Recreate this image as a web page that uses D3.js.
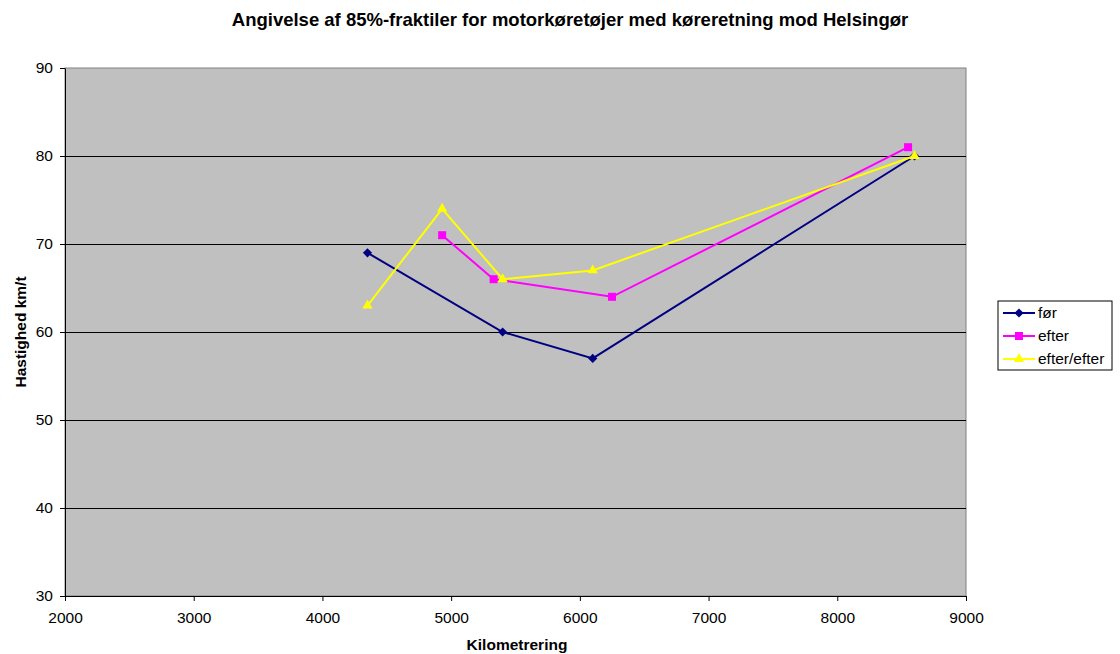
<!DOCTYPE html>
<html>
<head>
<meta charset="utf-8">
<script src="https://cdn.jsdelivr.net/npm/d3@7"></script>
<style>
  body { margin: 0; background: #fff; }
  text { font-family: "Liberation Sans", Arial, sans-serif; }
</style>
</head>
<body>
<svg width="1120" height="654"></svg>
<script>
// data
var forKm = [4350, 5400, 6100, 8600],
    forVal = [69, 60, 57, 80];
var efterKm = [4930, 5330, 6250, 8550],
    efterVal = [71, 66, 64, 81];
var efter2Km = [4350, 4930, 5400, 6100, 8600],
    efter2Val = [63, 74, 66, 67, 80];
var xTicks = [2000, 3000, 4000, 5000, 6000, 7000, 8000, 9000],
    yTicks = [30, 40, 50, 60, 70, 80, 90];

// diamond = square turned 45 degrees
var series = [
  { name: "før", km: forKm, val: forVal, color: "#000080", sym: d3.symbolSquare, size: 42, rot: 45 },
  { name: "efter", km: efterKm, val: efterVal, color: "#ff00ff", sym: d3.symbolSquare, size: 64, rot: 0 },
  { name: "efter/efter", km: efter2Km, val: efter2Val, color: "#ffff00", sym: d3.symbolTriangle, size: 46, rot: 0 }
];

var svg = d3.select("svg");
// plot box (window.top is reserved, so use p* names)
var pLeft = 65, pRight = 966, pTop = 68, pBottom = 596;

var x = d3.scaleLinear().domain([2000, 9000]).range([pLeft, pRight]);
var y = d3.scaleLinear().domain([30, 90]).range([pBottom, pTop]);

// plot area
svg.append("rect")
    .attr("x", pLeft).attr("y", pTop)
    .attr("width", pRight - pLeft).attr("height", pBottom - pTop)
    .attr("fill", "#c0c0c0")
    .attr("stroke", "#808080");

// gridlines
svg.append("g").selectAll("line")
  .data(yTicks.slice(1, -1))
  .enter().append("line")
    .attr("x1", pLeft).attr("x2", pRight)
    .attr("y1", function(d) { return Math.round(y(d)) + 0.5; })
    .attr("y2", function(d) { return Math.round(y(d)) + 0.5; })
    .attr("stroke", "#000");

// axes
var xAxis = svg.append("g")
    .attr("transform", "translate(0," + pBottom + ")")
    .call(d3.axisBottom(x).tickValues(xTicks).tickFormat(d3.format("d")).tickSizeOuter(0).tickSizeInner(5).tickPadding(11));
var yAxis = svg.append("g")
    .attr("transform", "translate(" + pLeft + ",0)")
    .call(d3.axisLeft(y).tickValues(yTicks).tickSizeOuter(0).tickSizeInner(5).tickPadding(7));

[xAxis, yAxis].forEach(function(a) {
  a.selectAll("text").attr("font-size", 15.5).attr("fill", "#000")
    .style("font-family", "'Liberation Sans', Arial, sans-serif");
  a.selectAll("line, path").attr("stroke", "#000");
});

// lines and markers
var line = d3.line()
    .x(function(d) { return x(d[0]); })
    .y(function(d) { return y(d[1]); });

series.forEach(function(s) {
  var pts = d3.zip(s.km, s.val);
  svg.append("path")
      .datum(pts)
      .attr("d", line)
      .attr("fill", "none")
      .attr("stroke", s.color)
      .attr("stroke-width", 2);
  svg.append("g").selectAll("path")
    .data(pts)
    .enter().append("path")
      .attr("d", d3.symbol().type(s.sym).size(s.size))
      .attr("transform", function(d) { return "translate(" + x(d[0]) + "," + y(d[1]) + ") rotate(" + s.rot + ")"; })
      .attr("fill", s.color);
});

// titles
svg.append("text")
    .attr("x", 570).attr("y", 26)
    .attr("text-anchor", "middle")
    .attr("font-size", 18.5).attr("font-weight", "bold")
    .text("Angivelse af 85%-fraktiler for motorkøretøjer med køreretning mod Helsingør");

svg.append("text")
    .attr("x", 517).attr("y", 650)
    .attr("text-anchor", "middle")
    .attr("font-size", 15.5).attr("font-weight", "bold")
    .text("Kilometrering");

svg.append("text")
    .attr("transform", "translate(26," + 332 + ") rotate(-90)")
    .attr("text-anchor", "middle")
    .attr("font-size", 15.5).attr("font-weight", "bold")
    .text("Hastighed km/t");

// legend
var lg = svg.append("g").attr("transform", "translate(998,301)");
lg.append("rect")
    .attr("width", 114).attr("height", 69)
    .attr("fill", "#fff").attr("stroke", "#000");
var item = lg.selectAll("g.item")
  .data(series)
  .enter().append("g")
    .attr("class", "item")
    .attr("transform", function(d, i) { return "translate(0," + (12 + i * 23) + ")"; });
item.append("line")
    .attr("x1", 5).attr("x2", 37)
    .attr("stroke", function(d) { return d.color; })
    .attr("stroke-width", 2);
item.append("path")
    .attr("d", function(d) { return d3.symbol().type(d.sym).size(d.size)(); })
    .attr("transform", function(d) { return "translate(21,0) rotate(" + d.rot + ")"; })
    .attr("fill", function(d) { return d.color; });
item.append("text")
    .attr("x", 40).attr("dy", "0.35em")
    .attr("font-size", 15.5)
    .text(function(d) { return d.name; });
</script>
</body>
</html>
